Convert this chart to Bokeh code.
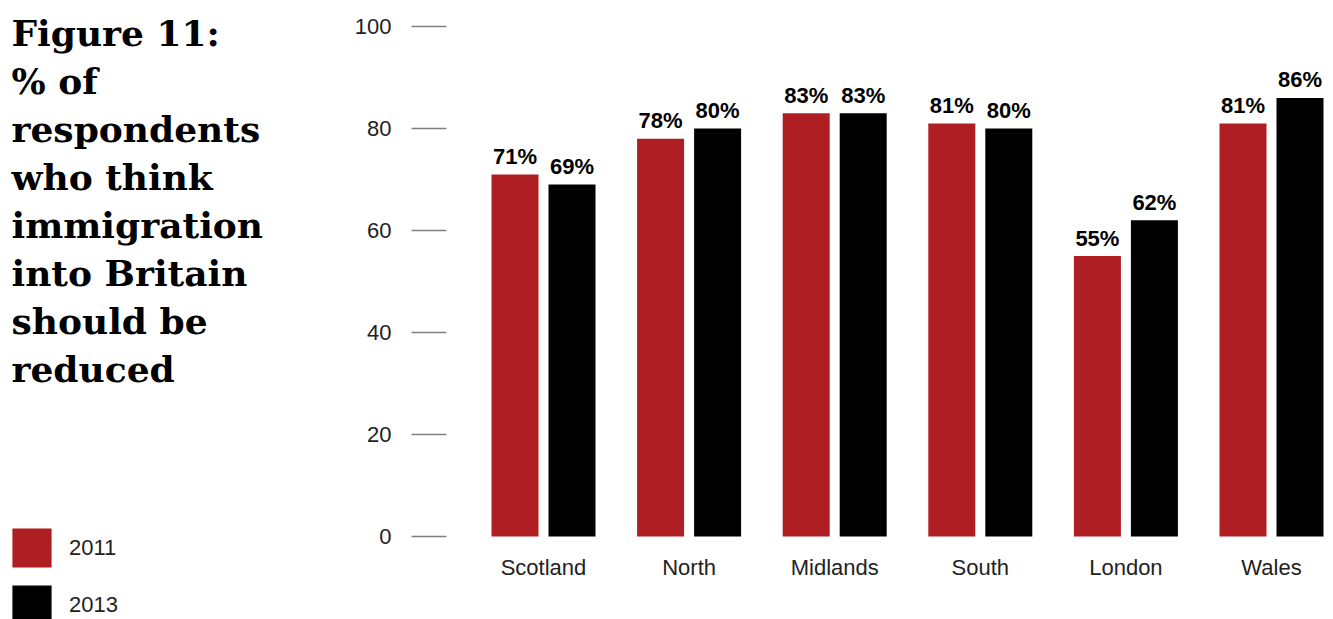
from bokeh.plotting import figure
from bokeh.layouts import row
from bokeh.models import ColumnDataSource, FixedTicker, Range1d, Label, Legend, LegendItem
from bokeh.core.properties import value
from bokeh.transform import dodge
from bokeh.embed import file_html
from bokeh.resources import INLINE

# ---- data ----
regions = ["Scotland", "North", "Midlands", "South", "London", "Wales"]
pct_2011 = [71, 78, 83, 81, 55, 81]
pct_2013 = [69, 80, 83, 80, 62, 86]
series = ["2011", "2013"]
y_ticks = [0, 20, 40, 60, 80, 100]
title_lines = ["Figure 11:", "% of", "respondents", "who think",
               "immigration", "into Britain", "should be", "reduced"]

# ---- layout constants ----
W, H = 1333, 619
LEFT_W = 340       # width of the title / legend panel
FRAME_L = 446      # canvas x of chart frame left
FRAME_T = 16       # canvas y of frame top
ZERO_Y = 536       # canvas y of value 0
PX_PER_UNIT = 5.1
GROUP = 145.6      # px between group centres
FIRST_CENTER = 543 # canvas x of first group centre
BAR_W = 47
OFF = 28.5

RED = "#AF1E22"
BLACK = "#000000"
TXT = "#222222"
SANS = "Liberation Sans"

xs = list(range(len(regions)))
src = ColumnDataSource(dict(
    x=xs, region=regions,
    v11=pct_2011, v13=pct_2013,
    t11=[f"{v}%" for v in pct_2011],
    t13=[f"{v}%" for v in pct_2013],
))

# ---------------- main chart ----------------
x0 = -(FIRST_CENTER - FRAME_L) / GROUP
p = figure(
    width=W - LEFT_W, height=H, output_backend="svg", toolbar_location=None,
    x_range=Range1d(x0, x0 + (W - FRAME_L) / GROUP),
    y_range=Range1d(-(H - ZERO_Y) / PX_PER_UNIT, (ZERO_Y - FRAME_T) / PX_PER_UNIT),
    x_axis_location=None,
    min_border_left=FRAME_L - LEFT_W, min_border_right=0,
    min_border_top=FRAME_T, min_border_bottom=0,
)
p.outline_line_color = None
p.xgrid.visible = False
p.ygrid.visible = False
p.background_fill_color = "white"
p.border_fill_color = "white"

p.vbar(x=dodge("x", -OFF / GROUP), top="v11", width=BAR_W / GROUP,
       source=src, fill_color=RED, line_color=None)
p.vbar(x=dodge("x", OFF / GROUP), top="v13", width=BAR_W / GROUP,
       source=src, fill_color=BLACK, line_color=None)

for col, off in (("11", -OFF), ("13", OFF)):
    p.text(x=dodge("x", off / GROUP), y="v" + col, text="t" + col, source=src,
           text_align="center", text_baseline="alphabetic", y_offset=-18,
           text_font=value(SANS), text_font_style="bold",
           text_font_size="22px", text_color="black")

# category labels under the bars
p.text(x="x", y=0, text="region", source=src,
       text_align="center", text_baseline="alphabetic", y_offset=31,
       text_font=value(SANS), text_font_size="22px", text_color=TXT)

# y axis
p.yaxis.ticker = FixedTicker(ticks=y_ticks)
p.yaxis.axis_line_color = None
p.yaxis.minor_tick_line_color = None
p.yaxis.major_tick_in = 0
p.yaxis.major_tick_out = 35
p.yaxis.major_tick_line_color = "#808080"
p.yaxis.major_tick_line_width = 1.5
p.yaxis.major_label_standoff = 20
p.yaxis.major_label_text_font = SANS
p.yaxis.major_label_text_font_size = "22px"
p.yaxis.major_label_text_color = TXT

# ---------------- left panel: title + legend ----------------
q = figure(
    width=LEFT_W, height=H, output_backend="svg", toolbar_location=None,
    x_range=Range1d(0, LEFT_W), y_range=Range1d(H, FRAME_T),
    x_axis_type=None, y_axis_type=None,
    min_border_left=0, min_border_right=0,
    min_border_top=FRAME_T, min_border_bottom=0,
)
q.outline_line_color = None
q.xgrid.visible = False
q.ygrid.visible = False
q.background_fill_color = "white"
q.border_fill_color = "white"

for i, line in enumerate(title_lines):
    q.add_layout(Label(
        x=11, y=32 + 48 * i, text=line,
        text_font="DejaVu Serif", text_font_style="bold",
        text_font_size="36px", text_color="black",
        text_baseline="alphabetic", text_align="left",
    ))

# hidden proxy renderers that carry the legend swatch styles
l11 = q.vbar(x="x", top="v11", width=1, source=src, visible=False,
             fill_color=RED, line_color=None)
l13 = q.vbar(x="x", top="v13", width=1, source=src, visible=False,
             fill_color=BLACK, line_color=None)

legend = Legend(
    items=[LegendItem(label=series[0], renderers=[l11]),
           LegendItem(label=series[1], renderers=[l13])],
    location=(7, -10),
    orientation="vertical",
    glyph_width=49, glyph_height=49, spacing=8, label_standoff=13,
    padding=0, margin=0, border_line_color=None, background_fill_alpha=0,
    inactive_fill_alpha=0,
    label_text_font=SANS, label_text_font_size="22px", label_text_color=TXT,
)
q.add_layout(legend)

layout = row(q, p, spacing=0)
open("out.html", "w").write(file_html(layout, INLINE))
